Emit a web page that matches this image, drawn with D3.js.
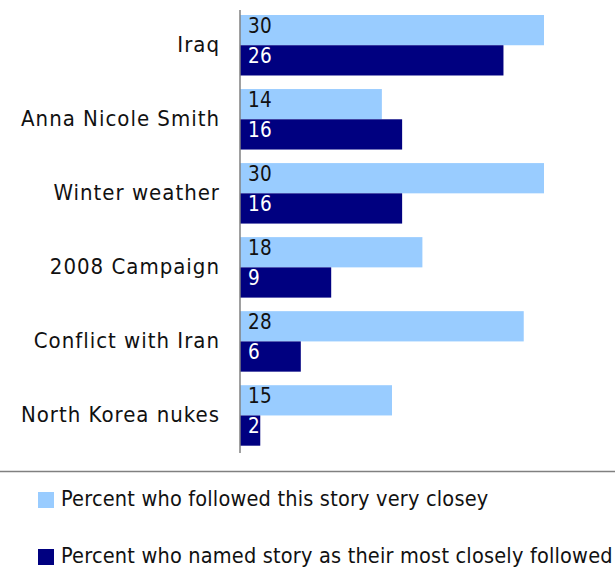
<!DOCTYPE html>
<html>
  <head>
    <meta charset="utf-8">
    <title>Most closely followed stories</title>
    <style media="screen">
      body {
        margin: 0;
        background: #fff;
      }
      text {
        font-family: "DejaVu Sans Condensed", "DejaVu Sans", sans-serif;
        font-stretch: condensed;
      }
    </style>
  </head>
  <body>
    <div id="chart"></div>
  </body>
  <script src="https://cdnjs.cloudflare.com/ajax/libs/d3/7.8.5/d3.min.js"></script>
  <script type="text/javascript">
  // values
  var stories = ['Iraq', 'Anna Nicole Smith', 'Winter weather', '2008 Campaign', 'Conflict with Iran', 'North Korea nukes'];
  var followedClosely = [30, 14, 30, 18, 28, 15];
  var mostFollowed = [26, 16, 16, 9, 6, 2];
  var seriesNames = ['Percent who followed this story very closey', 'Percent who named story as their most closely followed'];
  var seriesColors = ['#99ccff', '#000080'];

  var w = 615, h = 567;
  var svg = d3.select('#chart').append('svg').attr('width', w).attr('height', h);

  var x = d3.scaleLinear().domain([0, 30]).range([240, 544]);
  var y = d3.scaleBand().domain(stories).range([15, 445.7]).paddingInner(0.183).paddingOuter(0);
  var inner = d3.scaleBand().domain([0, 1]).range([0, y.bandwidth()]);

  var rows = stories.map(function(s, i) {
    return {name: s, vals: [followedClosely[i], mostFollowed[i]]};
  });

  var groups = svg.append('g').attr('class', 'bars')
    .selectAll('g').data(rows).enter().append('g')
    .attr('transform', function(d) { return 'translate(0,' + y(d.name) + ')'; });

  groups.selectAll('rect').data(function(d) { return d.vals; }).enter().append('rect')
    .attr('x', x(0))
    .attr('y', function(d, j) { return inner(j); })
    .attr('width', function(d) { return x(d) - x(0); })
    .attr('height', inner.bandwidth())
    .style('fill', function(d, j) { return seriesColors[j]; });

  groups.selectAll('text.val').data(function(d) { return d.vals; }).enter().append('text')
    .attr('class', 'val')
    .attr('x', x(0) + 8)
    .attr('y', function(d, j) { return inner(j) + 18; })
    .style('font-size', '20.5px')
    .style('letter-spacing', '0.3px')
    .style('fill', function(d, j) { return j == 0 ? '#111' : '#fff'; })
    .text(function(d) { return d; });

  // category labels
  svg.append('g').selectAll('text').data(stories).enter().append('text')
    .attr('x', 220)
    .attr('y', function(d) { return y(d) + y.bandwidth() / 2 + 7; })
    .style('text-anchor', 'end')
    .style('font-size', '22px')
    .style('letter-spacing', '1px')
    .style('fill', '#111')
    .text(function(d) { return d; });

  // vertical axis line
  svg.append('line')
    .attr('x1', x(0)).attr('x2', x(0))
    .attr('y1', 10).attr('y2', 453)
    .style('stroke', '#808080').style('stroke-width', 1.5);

  // divider above the legend
  svg.append('line')
    .attr('x1', 0).attr('x2', w)
    .attr('y1', 471.5).attr('y2', 471.5)
    .style('stroke', '#808080').style('stroke-width', 1.5);

  var legend = svg.append('g').selectAll('g').data(seriesNames).enter().append('g')
    .attr('transform', function(d, i) { return 'translate(38,' + (492 + i * 57) + ')'; });
  legend.append('rect')
    .attr('width', 16).attr('height', 16)
    .style('fill', function(d, i) { return seriesColors[i]; });
  legend.append('text')
    .attr('x', 23).attr('y', 14)
    .style('font-size', '21.5px')
    .style('letter-spacing', '0.2px')
    .style('fill', '#111')
    .text(function(d) { return d; });
  </script>
</html>
